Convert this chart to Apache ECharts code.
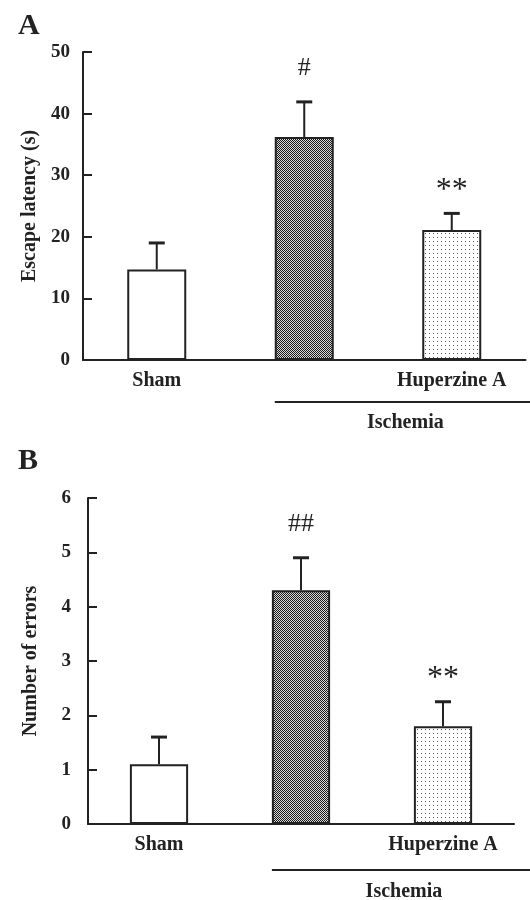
<!DOCTYPE html>
<html>
<head>
<meta charset="utf-8">
<script src="https://cdn.jsdelivr.net/npm/echarts@6/dist/echarts.min.js"></script>
<style>
html,body{margin:0;padding:0;background:#fff;}
#main{width:530px;height:900px;}
</style>
</head>
<body>
<div id="main"></div>
<script>
// ---- data ----
var categories = ['Sham', '', 'Huperzine A'];
var groupLabel = 'Ischemia';
var latencyMean = [14.7, 36.2, 21.1];
var latencyErr  = [4.3, 5.7, 2.7];
var latencyMarks = ['', '#', '**'];
var latencyTicks = [0, 10, 20, 30, 40, 50];
var errorsMean = [1.1, 4.3, 1.8];
var errorsErr  = [0.5, 0.6, 0.45];
var errorsMarks = ['', '##', '**'];
var errorsTicks = [0, 1, 2, 3, 4, 5, 6];

// ---- patterns ----
function checker() {
  var c = document.createElement('canvas'); c.width = 2; c.height = 2;
  var x = c.getContext('2d');
  x.fillStyle = '#d8d8d8'; x.fillRect(0, 0, 2, 2);
  x.fillStyle = '#1a1a1a'; x.fillRect(0, 0, 1, 1); x.fillRect(1, 1, 1, 1);
  return c;
}
function dots() {
  var c = document.createElement('canvas'); c.width = 4; c.height = 4;
  var x = c.getContext('2d');
  x.fillStyle = '#ffffff'; x.fillRect(0, 0, 4, 4);
  x.fillStyle = '#555555'; x.fillRect(1, 1, 1, 1);
  return c;
}
var fills = ['#ffffff', {image: checker(), repeat: 'repeat'}, {image: dots(), repeat: 'repeat'}];

var FONT = 'Liberation Serif';
var INK = '#222';

function barData(vals) {
  return vals.map(function (v, i) {
    return {value: v, itemStyle: {color: fills[i], borderColor: INK, borderWidth: 2}};
  });
}
function errData(mean, err, marks) {
  return mean.map(function (m, i) { return [i, m, m + err[i], marks[i]]; });
}
function renderErr(params, api) {
  var i = api.value(0);
  var p0 = api.coord([i, api.value(1)]);
  var p1 = api.coord([i, api.value(2)]);
  var half = 8;
  var mark = api.value(3);
  var children = [
    {type: 'line', shape: {x1: p0[0], y1: p0[1], x2: p1[0], y2: p1[1]}, style: {stroke: INK, lineWidth: 2}},
    {type: 'line', shape: {x1: p1[0] - half, y1: p1[1], x2: p1[0] + half, y2: p1[1]}, style: {stroke: INK, lineWidth: 3}}
  ];
  if (mark) {
    var star = String(mark).indexOf('*') >= 0;
    children.push({type: 'text', style: {text: mark, x: p1[0], y: p1[1] - (star ? 7 : 21), align: 'center', verticalAlign: 'bottom',
      font: (star ? 32 : 26) + 'px "' + FONT + '"', fill: INK}});
  }
  return {type: 'group', children: children};
}

function yAxisCfg(gi, ticks, name, gap, margin) {
  return {
    gridIndex: gi, type: 'value', min: ticks[0], max: ticks[ticks.length - 1], interval: ticks[1] - ticks[0],
    name: name, nameLocation: 'middle', nameRotate: 90, nameGap: gap,
    nameTextStyle: {fontFamily: FONT, fontWeight: 'bold', fontSize: 20, color: INK},
    axisLine: {show: true, lineStyle: {color: INK, width: 2}},
    axisTick: {show: true, inside: true, length: 9, lineStyle: {color: INK, width: 2}},
    axisLabel: {fontFamily: FONT, fontWeight: 'bold', fontSize: 19, color: INK, margin: margin},
    splitLine: {show: false}
  };
}
function xAxisCfg(gi) {
  return {
    gridIndex: gi, type: 'category', data: categories,
    axisLine: {show: true, onZero: false, lineStyle: {color: INK, width: 2}},
    axisTick: {show: false},
    axisLabel: {fontFamily: FONT, fontWeight: 'bold', fontSize: 20, color: INK, margin: 11, interval: 0}
  };
}

var chart = echarts.init(document.getElementById('main'), null, {renderer: 'canvas'});
chart.setOption({
  backgroundColor: '#fff',
  animation: false,
  title: [
    {text: 'A', left: 13, top: 6, textStyle: {fontFamily: FONT, fontWeight: 'bold', fontSize: 30, color: INK}},
    {text: 'B', left: 13, top: 441, textStyle: {fontFamily: FONT, fontWeight: 'bold', fontSize: 30, color: INK}}
  ],
  grid: [
    {left: 83, top: 52, width: 442.5, height: 308},
    {left: 88, top: 498, width: 426, height: 326}
  ],
  xAxis: [xAxisCfg(0), xAxisCfg(1)],
  yAxis: [yAxisCfg(0, latencyTicks, 'Escape latency (s)', 38, 13), yAxisCfg(1, errorsTicks, 'Number of errors', 47, 17)],
  series: [
    {type: 'bar', xAxisIndex: 0, yAxisIndex: 0, barWidth: '40%', data: barData(latencyMean), z: 2},
    {type: 'custom', xAxisIndex: 0, yAxisIndex: 0, renderItem: renderErr, data: errData(latencyMean, latencyErr, latencyMarks), z: 3},
    {type: 'bar', xAxisIndex: 1, yAxisIndex: 1, barWidth: '41%', data: barData(errorsMean), z: 2},
    {type: 'custom', xAxisIndex: 1, yAxisIndex: 1, renderItem: renderErr, data: errData(errorsMean, errorsErr, errorsMarks), z: 3}
  ]
});

// group bracket under the ischemia bars, located through the chart's scales
function bracket(gi, barFrac, lineOff, textOff) {
  var c1 = chart.convertToPixel({gridIndex: gi}, [1, 0]);
  var c2 = chart.convertToPixel({gridIndex: gi}, [2, 0]);
  var band = c2[0] - c1[0];
  var x0 = c1[0] - band * barFrac / 2;
  var x1 = 530;
  return [
    {type: 'line', shape: {x1: x0, y1: c1[1] + lineOff, x2: x1, y2: c1[1] + lineOff}, style: {stroke: INK, lineWidth: 2}},
    {type: 'text', x: (x0 + x1) / 2 + 3, y: c1[1] + textOff,
      style: {text: groupLabel, align: 'center', verticalAlign: 'middle', font: 'bold 20px "' + FONT + '"', fill: INK}}
  ];
}
chart.setOption({graphic: bracket(0, 0.4, 42, 63).concat(bracket(1, 0.41, 46, 68))});
</script>
</body>
</html>
